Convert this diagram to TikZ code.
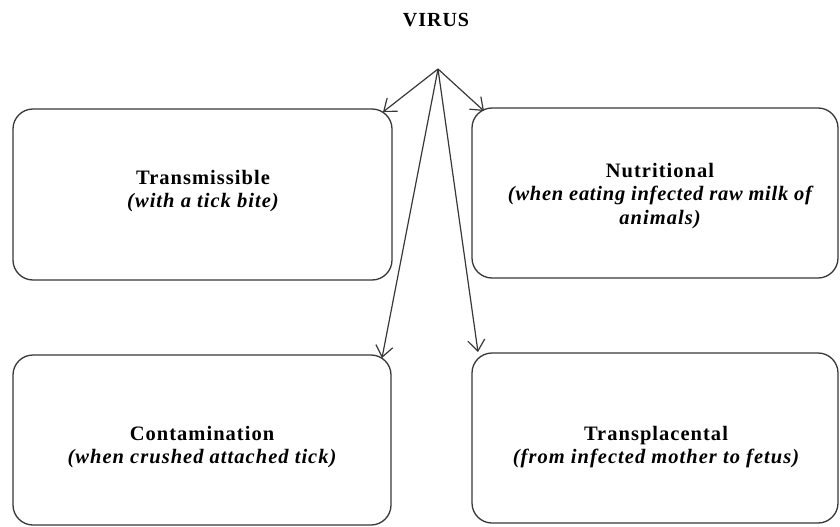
\documentclass[tikz,border=0pt]{standalone}
\usepackage{fontspec}
\setmainfont{Liberation Serif}
\newfontfamily\boxfont[LetterSpace=5]{Liberation Serif}
\newfontfamily\tightfont[LetterSpace=3.6]{Liberation Serif}
\usetikzlibrary{arrows.meta}
\definecolor{linec}{HTML}{383838}
\begin{document}
\begin{tikzpicture}[x=1pt,y=-1pt,
  boxstyle/.style={draw=linec, line width=1.3pt, rounded corners=20pt},
  lbl/.style={align=center, font=\boxfont\fontsize{20.5}{23.5}\selectfont\bfseries, inner sep=0pt},
  arr/.style={draw=linec, line width=1.2pt, -{Straight Barb[length=11pt,width=17pt,line width=1.2pt]}}]
\useasboundingbox (0,0) rectangle (840,527);
\node[font=\boxfont\fontsize{20}{23}\selectfont\bfseries, anchor=base] (virus) at (436,27) {VIRUS};
\coordinate (apex) at (438,69);
% boxes
\draw[boxstyle] (13,109) rectangle (392,280);
\draw[boxstyle] (472,108) rectangle (838,278);
\draw[boxstyle] (13,355) rectangle (391,525);
\draw[boxstyle] (472,353) rectangle (838,523);
\node[lbl] (tl) at (203,191) {Transmissible\\\itshape (with a tick bite)};
\node[lbl] (tr) at (660,196) {Nutritional\\{\tightfont\bfseries\itshape (when eating infected raw milk of}\\\itshape animals)};
\node[lbl] (bl) at (202,447) {Contamination\\\itshape (when crushed attached tick)};
\node[lbl] (br) at (656,447) {Transplacental\\\itshape (from infected mother to fetus)};
\coordinate (etl) at (383,112);
\coordinate (etr) at (484,111);
\coordinate (ebl) at (382,358);
\coordinate (ebr) at (478,352);
\draw[arr] (apex) -- (etl);
\draw[arr] (apex) -- (etr);
\draw[arr] (apex) -- (ebl);
\draw[arr] (apex) -- (ebr);
\end{tikzpicture}
\end{document}
